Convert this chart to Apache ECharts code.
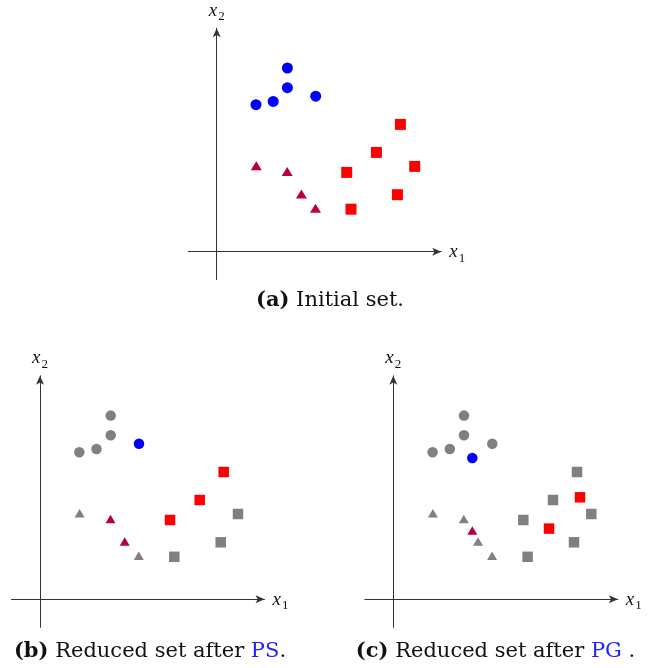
<!DOCTYPE html>
<html>
<head>
<meta charset="utf-8">
<style>html,body{margin:0;padding:0;background:#fff}#c{width:651px;height:668px}</style>
<script src="https://cdn.jsdelivr.net/npm/echarts@6/dist/echarts.min.js"></script>
</head>
<body>
<div id="c"></div>
<script>
// Initial set (x1, x2)
const circlesAll   = [[3.93,14.7],[5.65,15.03],[7.07,16.4],[7.07,18.37],[9.9,15.55]];
const squaresAll   = [[18.37,12.73],[15.97,9.93],[19.8,8.53],[13.0,7.93],[18.07,5.7],[13.43,4.25]];
const trianglesAll = [[3.96,8.6],[7.05,8.03],[8.47,5.78],[9.88,4.35]];

// (b) Reduced set after PS: kept prototypes
const psCircles   = [[9.9,15.55]];
const psSquares   = [[18.37,12.73],[15.97,9.93],[13.0,7.93]];
const psTriangles = [[7.05,8.03],[8.47,5.78]];
const psGrayCircles   = [[3.93,14.7],[5.65,15.03],[7.07,16.4],[7.07,18.37]];
const psGraySquares   = [[19.8,8.53],[18.07,5.7],[13.43,4.25]];
const psGrayTriangles = [[3.96,8.6],[9.88,4.35]];

// (c) Reduced set after PG: generated prototypes
const pgCircles   = [[7.9,14.13]];
const pgSquares   = [[18.67,10.2],[15.57,7.07]];
const pgTriangles = [[7.9,6.87]];

const captions = [
  '{b|(a)} Initial set.',
  '{b|(b)} Reduced set after {blue|PS}.',
  '{b|(c)} Reduced set after {blue|PG} .'
];

const BLUE = '#0000ff', RED = '#ff0000', CRIMSON = '#b8003e', GRAY = '#808080';
const SERIF = 'Liberation Serif';
const CAPFONT = 'DejaVu Serif';

const xMin = -2.85, xMax = 22.45, yMin = -2.8, yMax = 22.35;
const PX = 10; // px per unit
const W = (xMax - xMin) * PX, H = (yMax - yMin) * PX;
const origins = [[216.7, 251.7], [40, 599.3], [393.3, 599.3]];

const grids = origins.map(o => ({
  left: o[0] + xMin * PX, top: o[1] - yMax * PX, width: W, height: H
}));

const axisLine = {
  onZero: true,
  lineStyle: { color: '#333', width: 1 },
  symbol: ['none', 'arrow'], symbolSize: [6, 9]
};
const nameRich = {
  v: { fontFamily: SERIF, fontStyle: 'italic', fontSize: 19, color: '#111', lineHeight: 20, verticalAlign: 'bottom' },
  s: { fontFamily: SERIF, fontSize: 13, color: '#111', lineHeight: 14, verticalAlign: 'bottom', padding: [0,0,-3,1] }
};

const xAxes = grids.map((g, i) => ({
  type: 'value', gridIndex: i, min: xMin, max: xMax,
  axisLine, axisTick: { show: false }, axisLabel: { show: false }, splitLine: { show: false },
  name: '{v|x}{s|1}', nameLocation: 'end', nameGap: 8,
  nameTextStyle: { fontFamily: SERIF, rich: nameRich, verticalAlign: 'middle' }
}));
const yAxes = grids.map((g, i) => ({
  type: 'value', gridIndex: i, min: yMin, max: yMax,
  axisLine, axisTick: { show: false }, axisLabel: { show: false }, splitLine: { show: false },
  name: '{v|x}{s|2}', nameLocation: 'end', nameGap: 8,
  nameTextStyle: { fontFamily: SERIF, rich: nameRich, align: 'center' }
}));

function sc(data, idx, symbol, color, size) {
  return {
    type: 'scatter', xAxisIndex: idx, yAxisIndex: idx, data,
    symbol, symbolSize: size, itemStyle: { color, opacity: 1 },
    emphasis: { disabled: true }, silent: true
  };
}
const CS = 11, SS = 11, TS = [11, 9];
const G_CS = 10.5, G_SS = 10.5, G_TS = [10, 8.5];

const series = [
  // (a)
  sc(circlesAll, 0, 'circle', BLUE, CS),
  sc(squaresAll, 0, 'rect', RED, SS),
  sc(trianglesAll, 0, 'triangle', CRIMSON, TS),
  // (b)
  sc(psGrayCircles, 1, 'circle', GRAY, G_CS),
  sc(psGraySquares, 1, 'rect', GRAY, G_SS),
  sc(psGrayTriangles, 1, 'triangle', GRAY, G_TS),
  sc(psCircles, 1, 'circle', BLUE, G_CS),
  sc(psSquares, 1, 'rect', RED, G_SS),
  sc(psTriangles, 1, 'triangle', CRIMSON, G_TS),
  // (c)
  sc(circlesAll, 2, 'circle', GRAY, G_CS),
  sc(squaresAll, 2, 'rect', GRAY, G_SS),
  sc(trianglesAll, 2, 'triangle', GRAY, G_TS),
  sc(pgCircles, 2, 'circle', BLUE, G_CS),
  sc(pgSquares, 2, 'rect', RED, G_SS),
  sc(pgTriangles, 2, 'triangle', CRIMSON, G_TS)
];

const CAPSIZE = 21;
const capRich = {
  b: { fontFamily: CAPFONT, fontWeight: 'bold', fontSize: CAPSIZE, color: '#111' },
  blue: { fontFamily: CAPFONT, fontSize: CAPSIZE, color: '#2222ff' }
};
const capPos = [[330, 290], [150, 641], [495.5, 641]];
const titles = captions.map((t, i) => ({
  text: t, left: capPos[i][0], top: capPos[i][1], textAlign: 'center', padding: 0,
  textStyle: { fontFamily: CAPFONT, fontWeight: 'normal', fontSize: CAPSIZE, color: '#111', rich: capRich }
}));

const chart = echarts.init(document.getElementById('c'), null, { renderer: 'canvas' });
chart.setOption({
  animation: false,
  backgroundColor: '#fff',
  title: titles,
  grid: grids,
  xAxis: xAxes,
  yAxis: yAxes,
  series
});
</script>
</body>
</html>
